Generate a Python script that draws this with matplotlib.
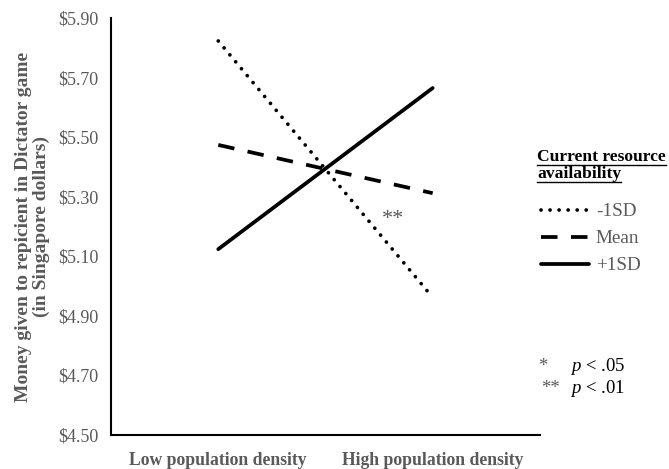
import numpy as np
import matplotlib.pyplot as plt
from matplotlib.lines import Line2D

plt.rcParams['font.family'] = ['Liberation Serif', 'DejaVu Serif']
plt.rcParams['mathtext.fontset'] = 'custom'
plt.rcParams['mathtext.it'] = 'Liberation Serif:italic'
plt.rcParams['mathtext.rm'] = 'Liberation Serif'

categories = ['Low population density', 'High population density']
minus_sd = [5.823, 4.962]
mean_vals = [5.474, 5.312]
plus_sd = [5.124, 5.665]
yticks = [4.50, 4.70, 4.90, 5.10, 5.30, 5.50, 5.70, 5.90]

grey = '#595959'

fig = plt.figure(figsize=(6.69, 4.69), dpi=100)
ax = fig.add_axes([0.166, 0.0725, 0.641, 0.889])

x = np.arange(len(categories))
l1, = ax.plot(x, minus_sd, color='black', lw=2.7, linestyle=(0, (0.01, 2.4)),
              dash_capstyle='round', label='-1SD')
l2, = ax.plot(x, mean_vals, color='black', lw=2.7, linestyle=(0, (4.4, 3.6)),
              label='Mean')
l3, = ax.plot(x, plus_sd, color='black', lw=2.7, solid_capstyle='round',
              label='+1SD')

ax.set_xlim(-0.5, 1.5)
ax.set_ylim(4.50, 5.90)
ax.set_yticks(yticks)
ax.set_yticklabels(['${:.2f}'.format(v) for v in yticks], color=grey, fontsize=13)
ax.set_xticks(x)
ax.set_xticklabels(categories, fontweight='bold', color=grey, fontsize=12.7)
ax.tick_params(axis='y', length=0, pad=9)
ax.tick_params(axis='x', length=0, pad=12)
for s in ['top', 'right']:
    ax.spines[s].set_visible(False)
for s in ['left', 'bottom']:
    ax.spines[s].set_linewidth(1.5)
ax.set_ylabel('Money given to repicient in Dictator game\n(in Singapore dollars)',
              fontweight='bold', color=grey, fontsize=14, labelpad=6,
              linespacing=1.05)

ax.text(0.815, 5.222, '**', fontsize=16, color=grey, ha='center', va='center')

# legend title with underline
t1 = fig.text(0.8027, 0.666, 'Current resource', fontweight='bold', fontsize=12.6, va='center')
t2 = fig.text(0.8027, 0.629, 'availability', fontweight='bold', fontsize=12.6, va='center')
fig.canvas.draw()
r = fig.canvas.get_renderer()
for t in (t1, t2):
    bb = t.get_window_extent(r).transformed(fig.transFigure.inverted())
    fig.add_artist(Line2D([bb.x0, bb.x1], [bb.y0 - 0.001, bb.y0 - 0.001],
                          transform=fig.transFigure, color='black', lw=1.0))

leg = fig.legend(handles=[l1, l2, l3], loc='upper left',
                 bbox_to_anchor=(0.8087, 0.567), frameon=False, fontsize=13.8,
                 borderpad=0, borderaxespad=0,
                 handlelength=2.5, handletextpad=0.36, labelspacing=0.5)
for txt in leg.get_texts():
    txt.set_color(grey)

fig.text(0.812, 0.2175, '*', fontsize=13.5, color=grey, va='center', ha='center')
fig.text(0.852, 0.2175, '$\\it{p}$ < .05', fontsize=13.5, va='center')
fig.text(0.8087, 0.1727, '**', fontsize=13.5, color=grey, va='center')
fig.text(0.852, 0.1727, '$\\it{p}$ < .01', fontsize=13.5, va='center')

fig.savefig('out.png', dpi=100)
